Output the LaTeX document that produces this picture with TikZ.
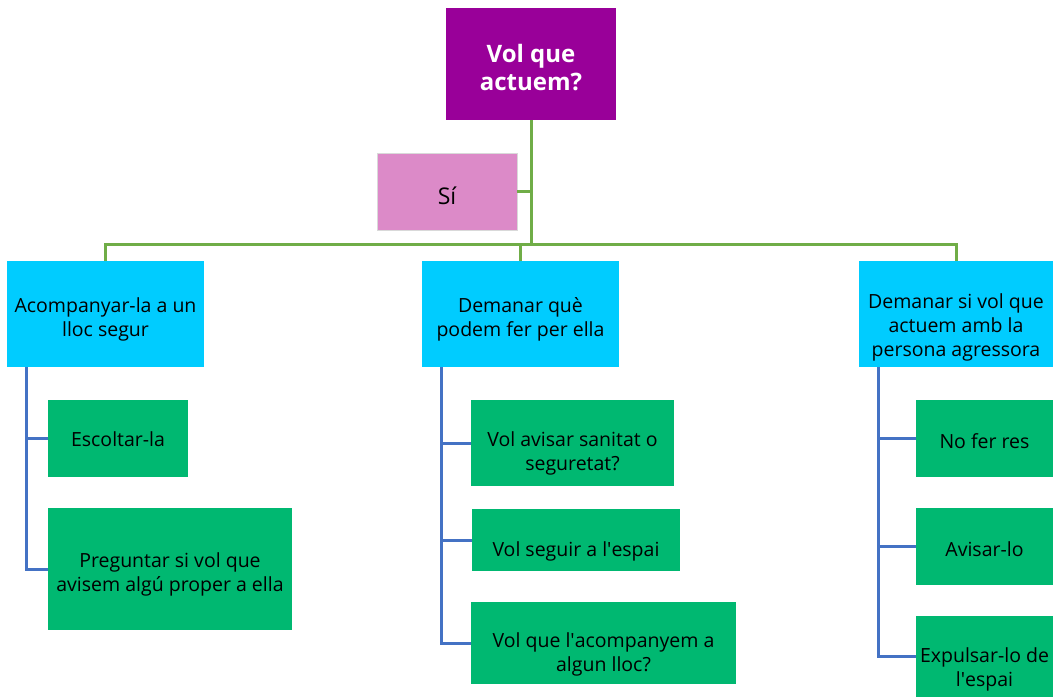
\documentclass[tikz,border=0pt]{standalone}
\usepackage{fontspec}
\setmainfont{Open Sans}
\usepackage{tikz}

\definecolor{titlepurple}{RGB}{153,0,153}
\definecolor{sipink}{RGB}{220,138,200}
\definecolor{optcyan}{RGB}{0,204,255}
\definecolor{actgreen}{RGB}{0,184,113}
\definecolor{trunkgreen}{RGB}{112,173,71}
\definecolor{branchblue}{RGB}{68,114,196}

\newcommand{\apos}{\textquotesingle}

\begin{document}
\begin{tikzpicture}[x=1pt,y=-1pt,
    box/.style={inner sep=0pt,align=center,font=\fontsize{19.5}{24}\selectfont},
    tpos/.style={text height=#1,text depth=0pt},
    option/.style={box,fill=optcyan},
    action/.style={box,fill=actgreen},
    trunk/.style={trunkgreen,line width=3pt},
    branch/.style={branchblue,line width=3pt}]
    \useasboundingbox [fill=white] (0,0) rectangle (1053,697);

    % question and answer
    \node [box,fill=titlepurple,text=white,minimum width=170,minimum height=112,tpos=52pt,
           font=\fontsize{24}{28}\selectfont\bfseries] (question) at (531,64) {Vol que\\actuem?};
    \node [box,fill=sipink,draw=black!15,line width=0.8pt,minimum width=140,minimum height=77,tpos=25pt,
           font=\fontsize{23}{24}\selectfont] (si) at (447,191.5) {Sí};

    % the three options
    \node [option,minimum width=197,minimum height=106,tpos=45pt] (left)   at (105.5,314) {Acompanyar-la a un\\lloc segur};
    \node [option,minimum width=197,minimum height=106,tpos=45pt] (middle) at (520.5,314) {Demanar què\\podem fer per ella};
    \node [option,minimum width=194,minimum height=106,tpos=84pt] (right)  at (956,314)   {Demanar si vol que\\actuem amb la\\persona agressora};

    % what to do under each option
    \node [action,minimum width=140,minimum height=77,tpos=16pt]  (listen) at (118,438.5) {Escoltar-la};
    \node [action,minimum width=244,minimum height=122,tpos=44pt] (ask)    at (170,569)   {Preguntar si vol que\\avisem algú proper a ella};

    \node [action,minimum width=203,minimum height=86,tpos=54pt]  (notify) at (572.5,443) {Vol avisar sanitat o\\seguretat?};
    \node [action,minimum width=208,minimum height=62,tpos=32pt]  (stay)   at (576,540)   {Vol seguir a l\apos espai};
    \node [action,minimum width=265,minimum height=82,tpos=56pt]  (escort) at (603.5,643) {Vol que l\apos acompanyem a\\algun lloc?};

    \node [action,minimum width=137,minimum height=77,tpos=20pt]  (nothing) at (984.5,438.5) {No fer res};
    \node [action,minimum width=137,minimum height=77,tpos=20pt]  (warn)    at (984.5,546.5) {Avisar-lo};
    \node [action,minimum width=137,minimum height=81,tpos=60pt]  (expel)   at (984.5,656.5) {Expulsar-lo de\\l\apos espai};

    % green tree
    \coordinate (hub) at (531,244);
    \draw [trunk] (question.south) -- (hub);
    \draw [trunk] (si.east) -- (si.east -| hub);
    \draw [trunk] (left.north) |- (hub) -| (right.north);
    \draw [trunk] (middle.north) -- (middle.north |- hub);

    % blue branches
    \coordinate (lspine) at ([xshift=20pt]left.south west);
    \coordinate (mspine) at ([xshift=20pt]middle.south west);
    \coordinate (rspine) at ([xshift=20pt]right.south west);
    \foreach \a/\b in {lspine/listen,lspine/ask,mspine/notify,mspine/stay,mspine/escort,
                       rspine/nothing,rspine/warn,rspine/expel}
        \draw [branch] (\a) |- (\b.west);
\end{tikzpicture}
\end{document}
